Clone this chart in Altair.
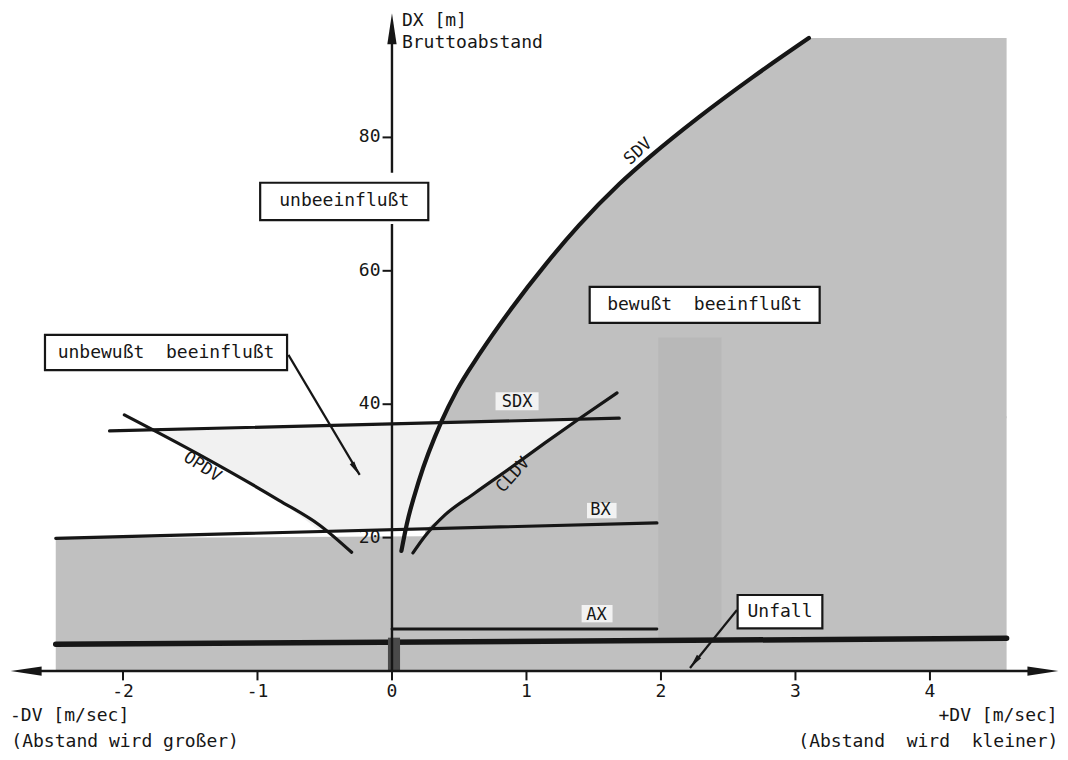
import altair as alt
import pandas as pd

# ---------------- data ----------------
X_DOMAIN = [-2.855, 4.967]
Y_DOMAIN = [-12.14, 99.40]

# curves
sdv_x = [0.07, 0.11, 0.20, 0.37, 0.48, 0.65, 0.89, 1.14, 1.39, 1.69, 1.93, 2.28, 2.68, 3.10]
sdv_y = [18.0, 22.0, 28.5, 37.5, 42.0, 47.5, 54.4, 60.9, 66.8, 73.0, 77.3, 83.0, 89.0, 94.9]
cldv_x = [0.156, 0.245, 0.394, 0.617, 0.877, 1.138, 1.398, 1.673]
cldv_y = [17.7, 20.2, 23.4, 26.7, 30.4, 34.2, 37.9, 41.7]
opdv_x = [-1.99, -1.43, -0.84, -0.54, -0.30]
opdv_y = [38.4, 32.4, 25.6, 21.9, 17.8]

# straight threshold lines
sdx_x, sdx_y = [-2.10, 1.69], [36.0, 37.9]
bx_x, bx_y = [-2.50, 1.97], [19.9, 22.2]
ax_x, ax_y = [0.0, 1.97], [6.3, 6.3]
unfall_x, unfall_y = [-2.50, 4.57], [4.0, 4.9]

# shaded regions
dark_low_x = [-2.50, 0.25, 0.245, 0.394, 0.617, 0.877, 1.138, 1.398]
dark_low_top = [19.9, 21.3, 20.2, 23.4, 26.7, 30.4, 34.2, 37.9]
dark_right_x = [1.39, 4.57]
dark_right_top = [38.2, 38.2]
dark_up_x = [0.37, 0.48, 0.65, 0.89, 1.14, 1.39, 1.69, 1.93, 2.28, 2.68, 3.10, 4.57]
dark_up_top = [37.5, 42.0, 47.5, 54.4, 60.9, 66.8, 73.0, 77.3, 83.0, 89.0, 94.9, 94.9]
dark_up_bot = [37.3, 37.3, 37.4, 37.5, 37.6, 37.8, 37.9, 37.9, 37.9, 37.9, 37.9, 37.9]
light_x = [-1.78, -1.43, -0.84, -0.54, 0.245, 0.617, 0.877, 1.138, 1.398]
light_top = [36.2, 36.4, 36.7, 36.9, 37.3, 37.5, 37.6, 37.7, 37.8]
light_bot = [36.2, 32.4, 25.6, 21.1, 21.3, 26.7, 30.4, 34.2, 37.8]
smudge = {"x": [1.98], "x2": [2.45], "y": [5.0], "y2": [50.0]}

# boxes with labels
box_text = ["unbeeinflußt", "unbewußt\u00a0\u00a0beeinflußt", "bewußt\u00a0\u00a0beeinflußt", "Unfall"]
box_x1 = [-0.98, -2.58, 1.47, 2.57]
box_x2 = [0.27, -0.78, 3.18, 3.20]
box_y1 = [67.6, 45.1, 52.2, 6.4]
box_y2 = [73.2, 50.4, 57.6, 11.4]

# curve labels
curve_lab = ["SDV", "SDX", "BX", "AX", "OPDV", "CLDV"]
curve_lab_x = [1.83, 0.93, 1.55, 1.52, -1.41, 0.90]
curve_lab_y = [77.9, 40.3, 24.1, 8.4, 30.6, 29.4]
curve_lab_angle = [318, 0, 0, 0, 33, 312]
lab_bg_x1 = [0.77, 1.45, 1.41]
lab_bg_x2 = [1.09, 1.67, 1.64]
lab_bg_y1 = [39.1, 22.9, 7.3]
lab_bg_y2 = [41.8, 25.2, 9.9]

# ticks
x_ticks = [-2, -1, 0, 1, 2, 3, 4]
x_tick_labels = ["-2", "-1", "0", "1", "2", "3", "4"]
y_ticks = [20, 40, 60, 80]
y_tick_labels = ["20", "40", "60", "80"]

# axis titles
left_titles = ["DX [m]", "Bruttoabstand", "-DV [m/sec]", "(Abstand wird großer)"]
left_titles_x = [0.074, 0.074, -2.84, -2.83]
left_titles_y = [97.5, 94.1, -6.8, -10.7]
right_titles = ["+DV [m/sec]", "(Abstand\u00a0\u00a0wird\u00a0\u00a0kleiner)"]
right_titles_x = [4.95, 4.955]
right_titles_y = [-6.8, -10.7]

# annotation arrows (start -> end)
arrow_x1 = [-0.77, 2.565]
arrow_y1 = [47.4, 9.15]
arrow_x2 = [-0.24, 2.216]
arrow_y2 = [29.4, 0.45]
arrowhead_x = [-0.27, 2.25]
arrowhead_y = [30.3, 1.35]
arrowhead_angle = [329, 39]

# ---------------- chart ----------------
FONT = "DejaVu Sans Mono"
INK = "#161616"
W, H = 1052, 744
xs = alt.Scale(domain=X_DOMAIN, nice=False, zero=False)
ys = alt.Scale(domain=Y_DOMAIN, nice=False, zero=False)


def X(f="x"):
    return alt.X(f"{f}:Q", scale=xs, axis=None)


def Y(f="y"):
    return alt.Y(f"{f}:Q", scale=ys, axis=None, stack=None)


GRAY = "#c0c0c0"
layers = []


def area(xv, top, bot, color):
    df = pd.DataFrame({"x": xv, "top": top, "bot": bot})
    return alt.Chart(df).mark_area(color=color, opacity=1, interpolate="linear").encode(
        x=X(), y=Y("top"), y2="bot:Q")


layers.append(area(light_x, light_top, light_bot, "#f1f1f1"))
layers.append(area(dark_low_x, dark_low_top, [0.0] * len(dark_low_x), GRAY))
layers.append(area(dark_right_x, dark_right_top, [0.0] * len(dark_right_x), GRAY))
layers.append(area(dark_up_x, dark_up_top, dark_up_bot, GRAY))
layers.append(alt.Chart(pd.DataFrame(smudge)).mark_rect(color="#7a7a7a", opacity=0.1).encode(
    x=X(), x2="x2:Q", y=Y(), y2="y2:Q"))


def line(xv, yv, width, interp="linear"):
    df = pd.DataFrame({"x": xv, "y": yv, "o": list(range(len(xv)))})
    return alt.Chart(df).mark_line(color=INK, strokeWidth=width, interpolate=interp,
                                   strokeCap="round").encode(x=X(), y=Y(), order="o:Q")


layers.append(line(sdx_x, sdx_y, 3.2))
layers.append(line(bx_x, bx_y, 3.2))
layers.append(line(ax_x, ax_y, 2.8))
layers.append(line(unfall_x, unfall_y, 5.5))
layers.append(line(opdv_x, opdv_y, 3.2, "monotone"))
layers.append(line(cldv_x, cldv_y, 3.2, "monotone"))
layers.append(line(sdv_x, sdv_y, 4.2, "monotone"))

# small dark block at origin
layers.append(alt.Chart(pd.DataFrame({"x": [-0.03], "x2": [0.06], "y": [0.0], "y2": [5.0]}))
              .mark_rect(color="#4a4a4a").encode(x=X(), x2="x2:Q", y=Y(), y2="y2:Q"))

# axes lines
axes_df = pd.DataFrame({"x": [-2.62, 0.0, 0.0], "x2": [4.76, 0.0, 0.0],
                        "y": [0.0, 0.0, 74.7], "y2": [0.0, 67.0, 95.0]})
layers.append(alt.Chart(axes_df).mark_rule(color=INK, strokeWidth=2.4).encode(
    x=X(), x2="x2:Q", y=Y(), y2="y2:Q"))

# tick marks
xt = pd.DataFrame({"x": x_ticks, "y": [0.0] * len(x_ticks), "y2": [-1.4] * len(x_ticks)})
layers.append(alt.Chart(xt).mark_rule(color=INK, strokeWidth=2).encode(x=X(), y=Y(), y2="y2:Q"))
yt = pd.DataFrame({"y": y_ticks, "x": [-0.07] * len(y_ticks), "x2": [0.0] * len(y_ticks)})
layers.append(alt.Chart(yt).mark_rule(color=INK, strokeWidth=2).encode(x=X(), x2="x2:Q", y=Y()))

# arrowheads of axes
head_x = [0.0, -2.72, 4.84]
head_y = [96.3, 0.0, 0.0]
head_shape = ["M-0.3,1L0,-1L0.3,1Z", "M1,-0.3L-1,0L1,0.3Z", "M-1,-0.3L1,0L-1,0.3Z"]
for hx, hy, hs in zip(head_x, head_y, head_shape):
    layers.append(alt.Chart(pd.DataFrame({"x": [hx], "y": [hy]})).mark_point(
        shape=hs, filled=True, color=INK, size=960, opacity=1).encode(x=X(), y=Y()))

# annotation arrows
arr = pd.DataFrame({"x": arrow_x1, "y": arrow_y1, "x2": arrow_x2, "y2": arrow_y2})
layers.append(alt.Chart(arr).mark_rule(color=INK, strokeWidth=2.2).encode(
    x=X(), y=Y(), x2="x2:Q", y2="y2:Q"))
ah = pd.DataFrame({"x": arrowhead_x, "y": arrowhead_y, "a": arrowhead_angle})
layers.append(alt.Chart(ah).mark_point(shape="M0,1L-0.38,-1L0.38,-1Z", filled=True, color=INK,
                                       size=200, opacity=1).encode(
    x=X(), y=Y(), angle=alt.Angle("a:Q", scale=None)))

# label backgrounds
bg = pd.DataFrame({"x": lab_bg_x1, "x2": lab_bg_x2, "y": lab_bg_y1, "y2": lab_bg_y2})
layers.append(alt.Chart(bg).mark_rect(color="#f2f2f2").encode(x=X(), x2="x2:Q", y=Y(), y2="y2:Q"))

# boxes
bx_df = pd.DataFrame({"x": box_x1, "x2": box_x2, "y": box_y1, "y2": box_y2, "t": box_text,
                      "cx": [(a + b) / 2 for a, b in zip(box_x1, box_x2)],
                      "cy": [(a + b) / 2 for a, b in zip(box_y1, box_y2)]})
layers.append(alt.Chart(bx_df).mark_rect(fill="white", stroke=INK, strokeWidth=2.2).encode(
    x=X(), x2="x2:Q", y=Y(), y2="y2:Q"))
layers.append(alt.Chart(bx_df).mark_text(font=FONT, fontSize=18, color=INK, align="center",
                                         baseline="middle").encode(
    x=X("cx"), y=Y("cy"), text="t:N"))

# curve labels
cl = pd.DataFrame({"x": curve_lab_x, "y": curve_lab_y, "t": curve_lab, "a": curve_lab_angle})
layers.append(alt.Chart(cl).mark_text(font=FONT, fontSize=17, color=INK, align="center",
                                      baseline="middle").encode(
    x=X(), y=Y(), text="t:N", angle=alt.Angle("a:Q", scale=None)))

# tick labels
xl = pd.DataFrame({"x": x_ticks, "y": [-3.2] * len(x_ticks), "t": x_tick_labels})
layers.append(alt.Chart(xl).mark_text(font=FONT, fontSize=18, color=INK, align="center",
                                      baseline="middle").encode(x=X(), y=Y(), text="t:N"))
yl = pd.DataFrame({"y": y_ticks, "x": [-0.085] * len(y_ticks), "t": y_tick_labels})
layers.append(alt.Chart(yl).mark_text(font=FONT, fontSize=18, color=INK, align="right",
                                      baseline="middle").encode(x=X(), y=Y(), text="t:N"))

# axis titles
lt = pd.DataFrame({"x": left_titles_x, "y": left_titles_y, "t": left_titles})
layers.append(alt.Chart(lt).mark_text(font=FONT, fontSize=18, color=INK, align="left",
                                      baseline="middle").encode(x=X(), y=Y(), text="t:N"))
rt = pd.DataFrame({"x": right_titles_x, "y": right_titles_y, "t": right_titles})
layers.append(alt.Chart(rt).mark_text(font=FONT, fontSize=18, color=INK, align="right",
                                      baseline="middle").encode(x=X(), y=Y(), text="t:N"))

chart = alt.layer(*layers).properties(
    width=W, height=H, padding=0,
    autosize=alt.AutoSizeParams(type="none"),
    background="white",
).configure_view(stroke=None)

chart.save("out.html", embed_options={"renderer": "svg", "actions": False})
